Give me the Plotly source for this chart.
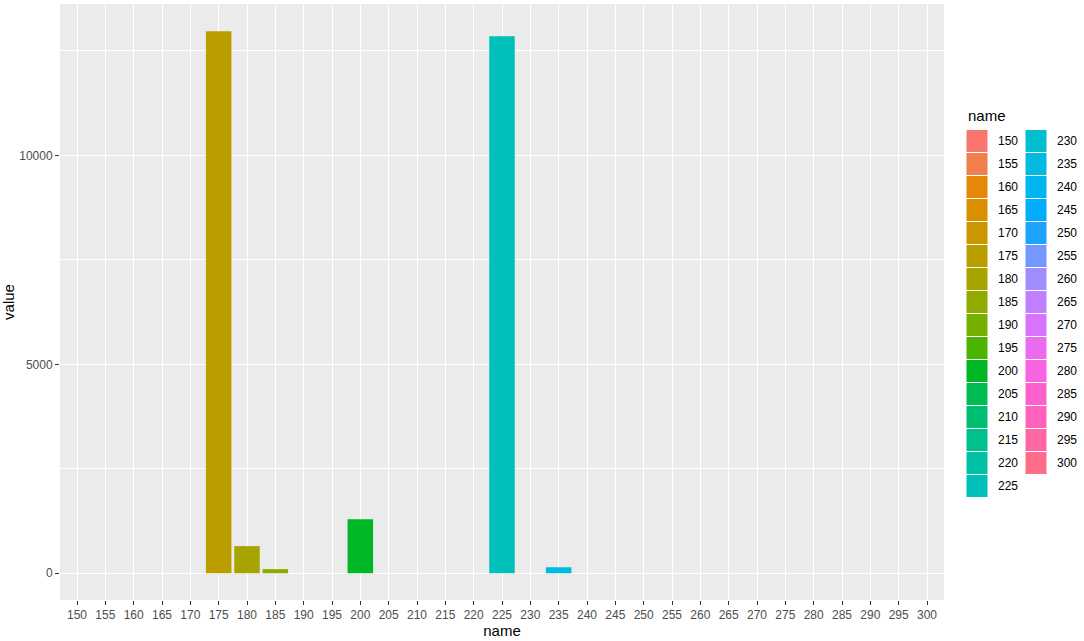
import math
import plotly.graph_objects as go

categories = [str(v) for v in range(150, 305, 5)]
values = [0, 0, 0, 0, 0, 12970, 650, 100, 0, 0, 1295, 0, 0, 0, 0, 12850,
          0, 145, 0, 0, 0, 0, 0, 0, 0, 0, 0, 0, 0, 0, 0]
y_ticks = [0, 5000, 10000]


def hcl_hex(h, c=100.0, l=65.0):
    un, vn = 0.1978398, 0.4683363
    U = c * math.cos(math.radians(h))
    V = c * math.sin(math.radians(h))
    Y = 100.0 * (((l + 16) / 116) ** 3 if l > 8 else l / 903.3)
    u = U / (13 * l) + un
    v = V / (13 * l) + vn
    X = 9.0 * Y * u / (4 * v)
    Z = -X / 3 - 5 * Y + 3 * Y / v
    X, Y, Z = X / 100, Y / 100, Z / 100
    r = 3.240479 * X - 1.537150 * Y - 0.498535 * Z
    g = -0.969256 * X + 1.875992 * Y + 0.041556 * Z
    b = 0.055648 * X - 0.204043 * Y + 1.057311 * Z

    def gam(t):
        t = 1.055 * t ** (1 / 2.4) - 0.055 if t > 0.00304 else 12.92 * t
        return max(0, min(255, round(t * 255)))
    return "#%02X%02X%02X" % (gam(r), gam(g), gam(b))


n = len(categories)
colors = [hcl_hex(15 + 360 * i / n) for i in range(n)]

W, H = 1084, 641
L, R, T, B = 60, 140, 4, 41

fig = go.Figure()
fig.add_trace(go.Bar(x=categories, y=values, marker=dict(color=colors, line=dict(width=0)),
                     width=0.9, showlegend=False))

font = "Liberation Sans, Arial, sans-serif"
fig.update_layout(
    width=W, height=H,
    margin=dict(l=L, r=R, t=T, b=B, pad=0),
    paper_bgcolor="white", plot_bgcolor="#EBEBEB",
    font=dict(family=font, color="black"),
    bargap=0.1,
    xaxis=dict(type="category", range=[-0.6, n - 1 + 0.6], showgrid=True, gridcolor="white",
               gridwidth=1.1, ticks="outside", ticklen=4, tickcolor="#333333", tickwidth=1,
               tickfont=dict(size=12, color="#4D4D4D", family=font), zeroline=False,
               title=dict(text="name", font=dict(size=15, family=font), standoff=2)),
    yaxis=dict(range=[-639, 13620], tickvals=y_ticks, ticktext=[str(v) for v in y_ticks],
               showgrid=True, gridcolor="white", gridwidth=1.1, zeroline=False,
               ticks="outside", ticklen=4, tickcolor="#333333", tickwidth=1,
               tickfont=dict(size=12, color="#4D4D4D", family=font),
               minor=dict(tickvals=[2500, 7500, 12500], showgrid=True, gridcolor="white",
                          gridwidth=0.5, ticks=""),
               title=dict(text="value", font=dict(size=15, family=font), standoff=6)),
)

# Manual two-column legend (ggplot style)
pw = W - L - R
ph = H - T - B


def px_x(x):
    return (x - L) / pw


def px_y(y):
    return 1 - (y - T) / ph


shapes = []
annotations = [dict(x=px_x(966), y=px_y(115), xref="paper", yref="paper", text="name",
                    showarrow=False, xanchor="left", yanchor="middle",
                    font=dict(size=15, family=font, color="black"))]
rows = 16
for i, (cat, col) in enumerate(zip(categories, colors)):
    c, r = divmod(i, rows)
    x0 = 966 + c * 59
    yc = 141 + r * 23
    shapes.append(dict(type="rect", xref="paper", yref="paper",
                       x0=px_x(x0), x1=px_x(x0 + 22), y0=px_y(yc - 11.5), y1=px_y(yc + 11.5),
                       fillcolor=col, line=dict(color="white", width=1)))
    annotations.append(dict(x=px_x(x0 + 30), y=px_y(yc), xref="paper", yref="paper",
                            text=cat, showarrow=False, xanchor="left", yanchor="middle",
                            font=dict(size=12, family=font, color="black")))
fig.update_layout(shapes=shapes, annotations=annotations)

fig.write_html("out.html", config={"displayModeBar": False},
               post_script="document.body.style.margin='0';")
